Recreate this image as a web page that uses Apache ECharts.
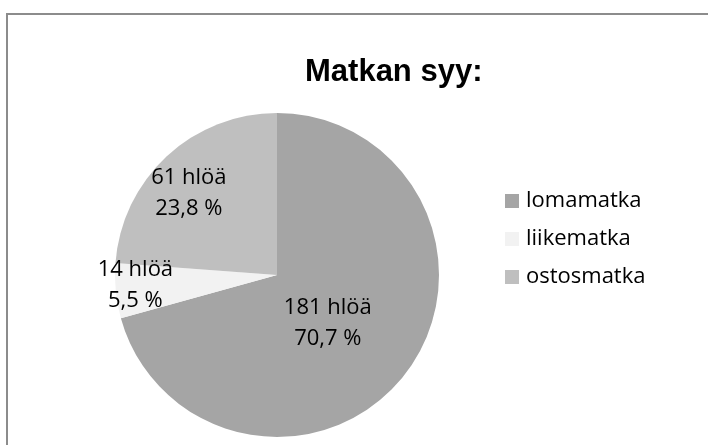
<!DOCTYPE html>
<html>
<head>
<meta charset="utf-8">
<script src="https://cdn.jsdelivr.net/npm/echarts@6/dist/echarts.min.js"></script>
<style>
    html, body { margin: 0; padding: 0; background: #fff; }
    #chart { width: 708px; height: 445px; }
</style>
</head>
<body>
<div id="chart"></div>
<script>
    // data
    const categories = ['lomamatka', 'liikematka', 'ostosmatka'];
    const persons = [181, 14, 61];
    const sliceColors = ['#a5a5a5', '#f2f2f2', '#bfbfbf'];
    // where the labels sit relative to the default inside spot
    const labelOffsets = [[-16, -3], [-58, 2], [-31, -20]];

    const total = persons.reduce((a, b) => a + b, 0);

    let chart = echarts.init(document.getElementById('chart'));
    chart.setOption({
        animation: false,
        color: sliceColors,
        graphic: [{
            type: 'rect',
            shape: { x: 7, y: 14, width: 800, height: 600 },
            style: { fill: 'none', stroke: '#8c8c8c', lineWidth: 2 },
            silent: true
        }],
        title: {
            text: 'Matkan syy:',
            left: 300,
            top: 52,
            textStyle: { fontFamily: 'Liberation Sans', fontWeight: 'bold', fontSize: 31, color: '#000' }
        },
        legend: {
            orient: 'vertical',
            left: 505,
            top: 189,
            padding: 0,
            icon: 'rect',
            itemWidth: 14,
            itemHeight: 14,
            itemGap: 14,
            selectedMode: false,
            textStyle: { fontFamily: 'Open Sans', fontSize: 22, lineHeight: 24, color: '#000', padding: [0, 0, 0, 2] },
            data: categories
        },
        series: [{
            type: 'pie',
            center: [277, 275],
            radius: 162,
            startAngle: 90,
            clockwise: true,
            silent: true,
            label: {
                show: true,
                position: 'inside',
                fontFamily: 'Open Sans',
                fontSize: 22,
                lineHeight: 31,
                color: '#000',
                formatter: p => p.value + ' hlöä\n' + (p.value / total * 100).toFixed(1).replace('.', ',') + ' %'
            },
            labelLine: { show: false },
            data: categories.map((name, i) => ({
                name: name,
                value: persons[i],
                label: { offset: labelOffsets[i] }
            }))
        }]
    });
</script>
</body>
</html>
